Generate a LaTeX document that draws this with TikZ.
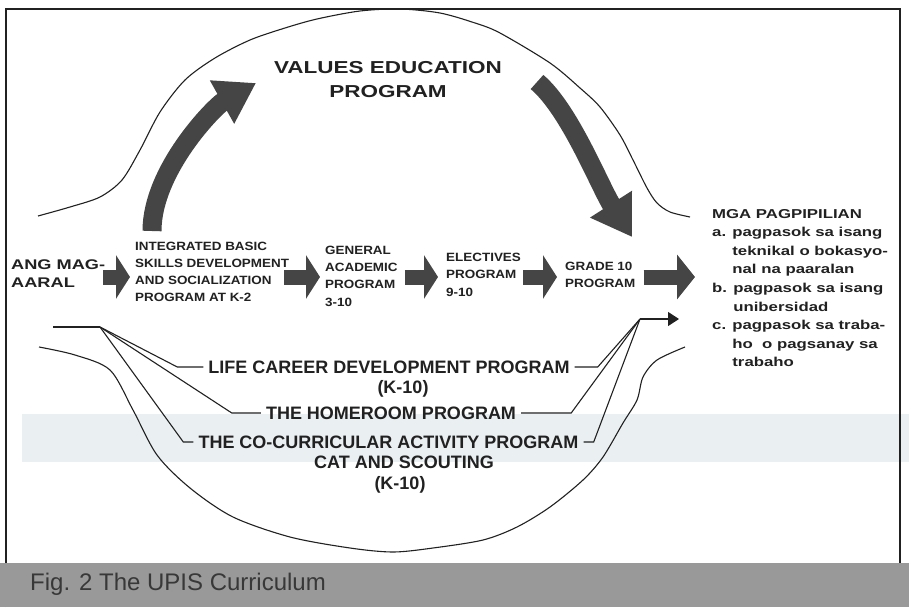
\documentclass[tikz,border=0pt]{standalone}
\usepackage{fontspec}
\setmainfont{Liberation Sans}
\newfontfamily\widesans[FakeStretch=1.3]{Liberation Sans}
\newfontfamily\midsans[FakeStretch=1.12]{Liberation Sans}
\usetikzlibrary{arrows.meta}

\definecolor{ink}{gray}{0.13}
\definecolor{arrowgray}{gray}{0.27}
\definecolor{bandgray}{gray}{0.60}
\definecolor{haze}{RGB}{234,239,242}

\begin{document}
\begin{tikzpicture}[x=1pt,y=-1pt,
  line/.style={draw=ink,line width=1.1pt},
  fat/.style={draw=arrowgray,line width=15pt,-{Triangle[length=14pt,width=43pt]}},
  swing/.style={draw=arrowgray,line width=19pt,-{Triangle[length=39pt,width=47pt]}},
  stage/.style={text=ink,font=\midsans\bfseries\fontsize{12}{16.8}\selectfont,align=left,inner sep=0pt,anchor=west},
  lbl/.style={text=ink,font=\fontsize{18}{20}\selectfont\bfseries,inner xsep=5pt,inner ysep=0pt,text height=13pt,text depth=0pt}]

\useasboundingbox (0,0) rectangle (909,607);
\fill[white] (0,0) rectangle (909,607);
\fill[haze] (22,414) rectangle (909,462);

% frame and caption strip
\draw[ink,line width=1.4pt] (6,607) -- (6,9) -- (900,9) -- (900,607);
\fill[bandgray] (0,563) rectangle (909,607);
\node[anchor=base west,inner sep=0pt,text=black!78,font=\fontsize{24}{24}\selectfont] (fig) at (30,590) {Fig. 2 The UPIS Curriculum};

% upper and lower outlines
\draw[line] plot[smooth,tension=0.5] coordinates {(38,216) (70,207) (100,197) (122,180) (140,150) (160,112) (185,80) (215,58) (250,40) (285,28) (317,19) (360,11) (400,9) (440,13) (475,23) (500,33) (550,63) (580,88) (600,107) (620,135) (633,160) (647,188) (657,203) (670,212) (690,217)};
\draw[line] plot[smooth,tension=0.5] coordinates {(39,347) (75,355) (110,370) (133,410) (157,455) (190,488) (233,517) (290,537) (350,548) (393,552) (433,548) (483,540) (517,527) (550,507) (583,480) (603,457) (623,423) (637,400) (643,377) (657,360) (685,347)};

\node[text=ink,align=center,font=\widesans\bfseries\fontsize{17.3}{24}\selectfont] (vep) at (388,80) {VALUES EDUCATION\\PROGRAM};

\node[text=ink,align=left,anchor=west,inner sep=0pt,font=\widesans\bfseries\fontsize{14}{18}\selectfont] (ang) at (11,274) {ANG MAG-\\AARAL};
\node[stage] (ibs) at (135,272) {INTEGRATED BASIC\\SKILLS DEVELOPMENT\\AND SOCIALIZATION\\PROGRAM AT K-2};
\node[stage,font=\midsans\bfseries\fontsize{12}{17.3}\selectfont] (gap) at (325,276) {GENERAL\\ACADEMIC\\PROGRAM\\3-10};
\node[stage,font=\midsans\bfseries\fontsize{12}{17.5}\selectfont] (elp) at (446,274.5) {ELECTIVES\\PROGRAM\\9-10};
\node[stage] (gten) at (565,275) {GRADE 10\\PROGRAM};
\node[text=ink,align=left,anchor=west,inner sep=0pt,font=\widesans\bfseries\fontsize{12.9}{18.6}\selectfont] (mga) at (712,288) {MGA PAGPIPILIAN\\a. pagpasok sa isang\\\phantom{a. }teknikal o bokasyo-\\\phantom{a. }nal na paaralan\\b. pagpasok sa isang\\\phantom{b. }unibersidad\\c. pagpasok sa traba-\\\phantom{c. }ho\ \ o pagsanay sa\\\phantom{c. }trabaho};

\coordinate (row) at (0,277);
\draw[fat] ([xshift=-2pt]ang.east |- row) -- ([xshift=-5pt]ibs.west |- row);
\draw[fat] ([xshift=-5pt]ibs.east |- row) -- ([xshift=-5pt]gap.west |- row);
\draw[fat] ([xshift=7pt]gap.east |- row) -- ([xshift=-8pt]elp.west |- row);
\draw[fat] ([xshift=2pt]elp.east |- row) -- ([xshift=-8pt]gten.west |- row);
\draw[fat,-{Triangle[length=18pt,width=44pt]}] ([xshift=8pt]gten.east |- row) -- ([xshift=-17pt]mga.west |- row);

\coordinate (upfoot) at (152,231);
\coordinate (uptip) at (256,83);
\coordinate (downfoot) at (537,82);
\coordinate (downtip) at (632,237);
\draw[swing] (upfoot) .. controls (152,170) and (215,106) .. (uptip);
\draw[swing] (downfoot) .. controls (570,110) and (600,187) .. (downtip);

\node[lbl] (lcd) at (389,367) {LIFE CAREER DEVELOPMENT PROGRAM};
\node[lbl] (lcdk) at (403,387) {(K-10)};
\node[lbl] (hrp) at (391,413) {THE HOMEROOM PROGRAM};
\node[lbl] (cca) at (388.5,442) {THE CO-CURRICULAR ACTIVITY PROGRAM};
\node[lbl] (cat) at (404,462) {CAT AND SCOUTING};
\node[lbl] (catk) at (400,483) {(K-10)};

\coordinate (lead) at (53,327);
\coordinate (fanL) at (100,327);
\coordinate (fanR) at (640,319);
\coordinate (outtip) at (679,319);
\draw[line] (lead) -- (fanL);
\draw[line] (fanL) -- ([xshift=-26pt]lcd.west) -- (lcd.west);
\draw[line] (fanL) -- ([xshift=-29pt]hrp.west) -- (hrp.west);
\draw[line] (fanL) -- ([xshift=-10pt]cca.west) -- (cca.west);
\draw[line] (lcd.east) -- ([xshift=23pt]lcd.east) -- (fanR);
\draw[line] (hrp.east) -- ([xshift=50pt]hrp.east) -- (fanR);
\draw[line] (cca.east) -- ([xshift=10pt]cca.east) -- (fanR);
\draw[line,-{Triangle[length=11pt,width=14pt]}] (fanR) -- (outtip);
\end{tikzpicture}
\end{document}
